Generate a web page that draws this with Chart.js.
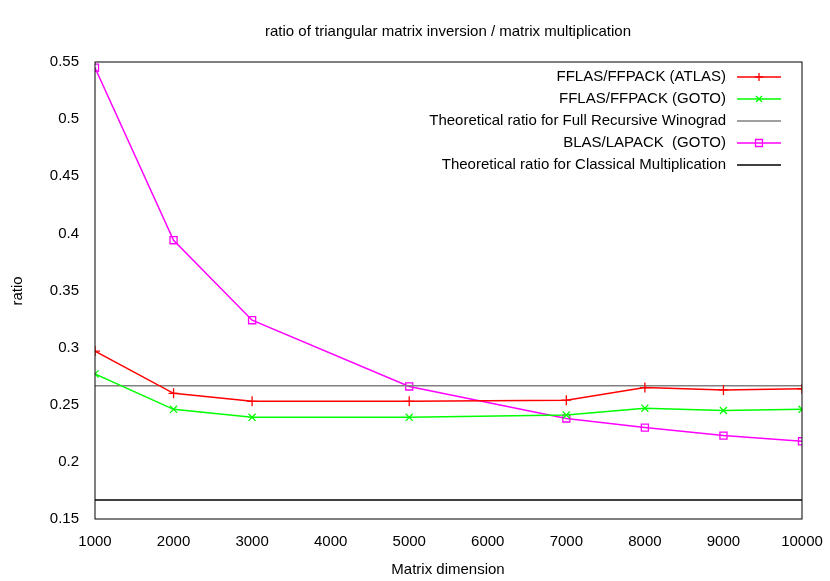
<!DOCTYPE html>
<html><head><meta charset="utf-8">
<script src="https://cdn.jsdelivr.net/npm/chart.js@4"></script>
<style>body{margin:0;background:#fff}#w{width:830px;height:581px}</style>
</head><body><div id="w"><canvas id="c"></canvas></div>
<script>
const xValues=[1000,2000,3000,5000,7000,8000,9000,10000];
const atlas=[0.297,0.260,0.253,0.253,0.254,0.265,0.263,0.264];
const goto=[0.277,0.246,0.239,0.239,0.241,0.247,0.245,0.246];
const blas=[0.545,0.394,0.324,0.266,0.238,0.230,0.223,0.218];
const winogradX=[1000,10000], winograd=[0.2667,0.2667];
const classical=[0.1667,0.1667];
const labels=["FFLAS/FFPACK (ATLAS)","FFLAS/FFPACK (GOTO)","Theoretical ratio for Full Recursive Winograd","BLAS/LAPACK  (GOTO)","Theoretical ratio for Classical Multiplication"];
const pts=(xs,ys)=>xs.map((x,i)=>({x,y:ys[i]}));
const F="'Liberation Sans', Arial, sans-serif";
const ds=[
 {label:labels[0],data:pts(xValues,atlas),borderColor:'#ff0000',pointStyle:'cross',pointRadius:5},
 {label:labels[1],data:pts(xValues,goto),borderColor:'#00ff00',pointStyle:'crossRot',pointRadius:5},
 {label:labels[2],data:pts(winogradX,winograd),borderColor:'#808080',pointRadius:0},
 {label:labels[3],data:pts(xValues,blas),borderColor:'#ff00ff',pointStyle:'rect',pointRadius:5},
 {label:labels[4],data:pts(winogradX,classical),borderColor:'#000000',pointRadius:0}
].map(d=>Object.assign({showLine:true,borderWidth:1.5,backgroundColor:'rgba(0,0,0,0)',pointBorderColor:d.borderColor,pointBorderWidth:1.3,tension:0},d));
const deco={id:'deco',afterDraw(ch){
 const c=ch.ctx,a=ch.chartArea;
 c.save();c.strokeStyle='#000';c.lineWidth=1;c.strokeRect(a.left,a.top,a.right-a.left,a.bottom-a.top);
 c.fillStyle='#000';c.font='15px '+F;c.textAlign='center';c.textBaseline='middle';
 c.fillText('ratio of triangular matrix inversion / matrix multiplication',448,32);
 c.fillText('Matrix dimension',448,570);
 c.save();c.translate(18,291);c.rotate(-Math.PI/2);c.fillText('ratio',0,0);c.restore();
 c.textAlign='right';
 ds.forEach((d,i)=>{const y=77+i*22;c.fillStyle='#000';c.fillText(d.label,726,y);
  c.strokeStyle=d.borderColor;c.lineWidth=1.5;c.beginPath();c.moveTo(737,y);c.lineTo(781,y);c.stroke();
  const m=759;c.lineWidth=1.3;c.beginPath();
  if(d.pointStyle==='cross'){c.moveTo(m-4,y);c.lineTo(m+4,y);c.moveTo(m,y-4);c.lineTo(m,y+4);}
  else if(d.pointStyle==='crossRot'){c.moveTo(m-3,y-3);c.lineTo(m+3,y+3);c.moveTo(m-3,y+3);c.lineTo(m+3,y-3);}
  else if(d.pointStyle==='rect'){c.rect(m-3.5,y-3.5,7,7);}
  c.stroke();});
 c.restore();}};
new Chart(document.getElementById('c'),{type:'scatter',data:{datasets:ds},plugins:[deco],
 options:{responsive:true,maintainAspectRatio:false,animation:false,
 layout:{padding:{top:62,right:28}},
 plugins:{legend:{display:false},tooltip:{enabled:false}},
 scales:{
  x:{type:'linear',min:1000,max:10000,grid:{display:false},border:{display:false},
     afterFit:s=>{s.height=62},
     ticks:{stepSize:1000,color:'#000',font:{family:F,size:15},maxRotation:0,padding:6,callback:v=>String(v)}},
  y:{min:0.15,max:0.55,grid:{display:false},border:{display:false},
     afterFit:s=>{s.width=95},
     ticks:{stepSize:0.05,color:'#000',font:{family:F,size:15},padding:8,callback:v=>String(+v.toFixed(2))}}}}});
</script></body></html>
